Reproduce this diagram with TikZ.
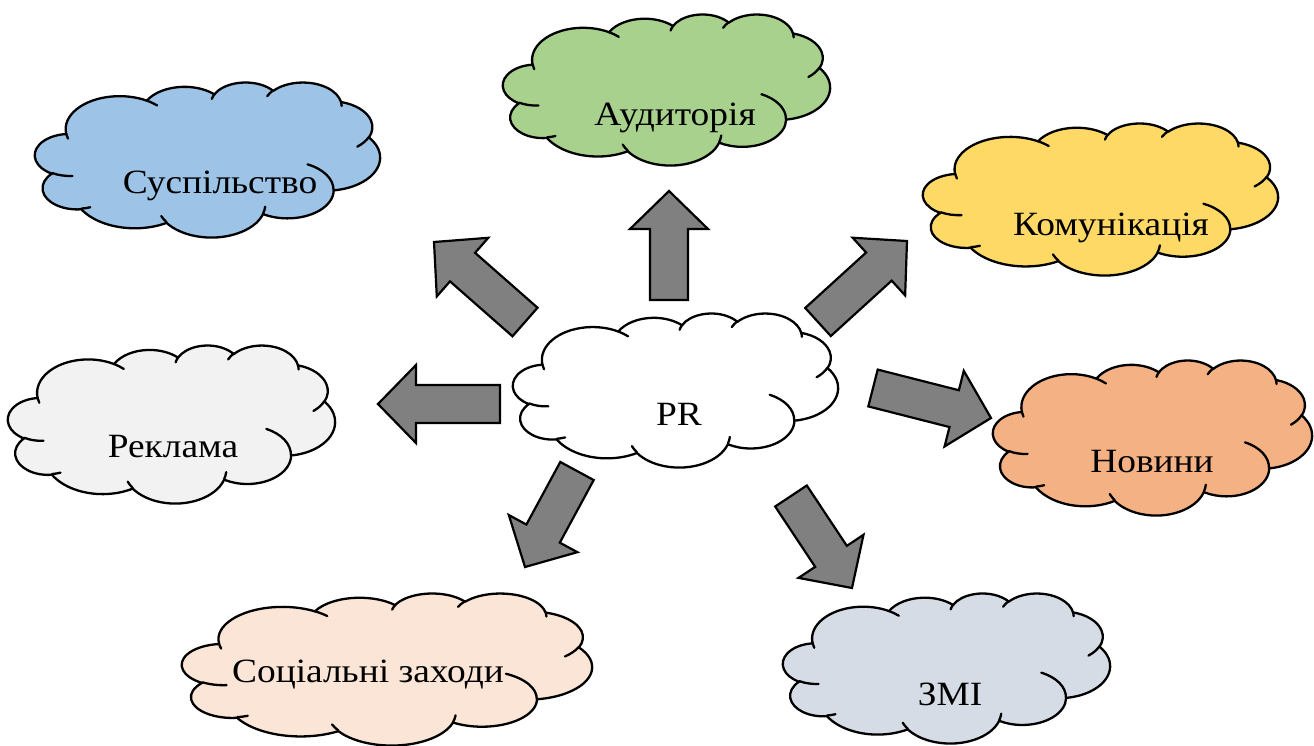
\documentclass[tikz,border=0pt]{standalone}
\usepackage{fontspec}
\setmainfont{Liberation Serif}
\newfontfamily\widefont[FakeStretch=1.1]{Liberation Serif}
\usetikzlibrary{calc}
\definecolor{cBlue}{HTML}{9DC3E6}
\definecolor{cGreen}{HTML}{A9D18E}
\definecolor{cYellow}{HTML}{FFD966}
\definecolor{cGray}{HTML}{F2F2F2}
\definecolor{cOrange}{HTML}{F4B183}
\definecolor{cSteel}{HTML}{D6DCE5}
\definecolor{cPeach}{HTML}{FBE5D6}
\definecolor{arrowgray}{HTML}{808080}
\tikzset{
  cloudline/.style={draw=black, line width=2.3pt, line join=round},
  blockarrow/.style={draw=black, line width=2.2pt, fill=arrowgray, line join=miter},
  cltext/.style={font=\widefont\fontsize{34}{38}\selectfont, anchor=base, inner sep=0pt},
}
% arc of the Office cloud: wR hR (hundreds), start angle, sweep (degrees, y down)
\newcommand\carc[4]{arc[start angle={-atan2((#1)*sin(#3),(#2)*cos(#3))}, delta angle={-mod(atan2((#1)*sin((#3)+(#4)),(#2)*cos((#3)+(#4)))-atan2((#1)*sin(#3),(#2)*cos(#3))+720,360)}, x radius={(#1)*\csx*1pt}, y radius={(#2)*\csy*1pt}]}
\newcommand\cpt[2]{(\cx+#1*\csx,-\cy-#2*\csy)}
\newcommand\cloudshape[5]{%
  \def\cx{#1}\def\cy{#2}%
  \pgfmathsetmacro\csx{#3/432}\pgfmathsetmacro\csy{#4/432}%
  \filldraw[cloudline, fill=#5] \cpt{39.00}{143.70}
    \carc{67.53}{91.90}{-190.48748}{123.78053}
    \carc{53.33}{72.67}{-144.10238}{89.94523}
    \carc{43.65}{59.45}{-145.80792}{99.72302}
    \carc{48.57}{65.95}{-130.98607}{117.24173}
    \carc{53.33}{72.73}{-78.70888}{109.02692}
    \carc{67.75}{92.20}{-46.26725}{130.269}
    \carc{57.85}{78.67}{0.62502}{114.03333}
    \carc{67.52}{92.15}{22.4516}{115.17255}
    \carc{77.20}{105.43}{66.24263}{75.71102}
    \carc{43.60}{59.18}{-274.94208}{146.73557}
    \carc{43.45}{59.45}{-246.8285}{152.51885}
    -- cycle;
  \draw[cloudline, line cap=round]
    \cpt{46.93}{261.77} \carc{43.45}{59.45}{86.742}{26.4295}
    \cpt{69.28}{348.99} \carc{43.60}{59.18}{73.61047}{11.44747}
    \cpt{164.78}{390.90} \carc{67.52}{92.15}{137.62415}{14.0811}
    \cpt{288.27}{347.51} \carc{67.52}{92.15}{6.45327}{15.99835}
    \cpt{341.29}{229.54} \carc{57.85}{78.67}{-70.29235}{70.91737}
    \cpt{417.98}{153.54} \carc{53.33}{72.73}{30.31803}{27.7515}
    \cpt{383.24}{54.26} \carc{48.57}{65.95}{-13.74433}{14.8589}
    \cpt{290.78}{39.52} \carc{48.57}{65.95}{-149.18145}{18.19537}
    \cpt{221.41}{47.20} \carc{43.65}{59.45}{-163.49427}{17.68635}
    \cpt{140.00}{51.92} \carc{67.53}{91.90}{-66.70695}{12.31935}
    \cpt{41.27}{157.89} \carc{67.53}{91.90}{157.65435}{11.85817};
}
\newcommand\blockarr[2]{%
  \coordinate (#1n) at ($(#2)!38pt!(#1)$);
  \draw[blockarrow] ($(#1)!19pt!90:(#2)$) -- ($(#1n)!19pt!90:(#2)$) -- ($(#1n)!39pt!90:(#2)$) -- (#2)
    -- ($(#1n)!39pt!-90:(#2)$) -- ($(#1n)!19pt!-90:(#2)$) -- ($(#1)!19pt!-90:(#2)$) -- cycle;
}
\begin{document}
\begin{tikzpicture}[x=1pt,y=1pt]
\useasboundingbox (0,0) rectangle (1314,-745);
% clouds
\cloudshape{513}{313}{325}{154}{white}
\cloudshape{35}{82}{345}{155}{cBlue}
\cloudshape{503}{14}{327}{151}{cGreen}
\cloudshape{923}{123}{355}{152}{cYellow}
\cloudshape{8}{345}{327}{158}{cGray}
\cloudshape{993}{360}{319}{155}{cOrange}
\cloudshape{783}{593}{327}{150}{cSteel}
\cloudshape{182}{593}{410}{152}{cPeach}
% texts
\node[cltext] (pr) at (679,-425) {PR};
\node[cltext] (susp) at (220,-193) {Суспільство};
\node[cltext] (aud) at (675,-125) {Аудиторія};
\node[cltext] (kom) at (1111,-235) {Комунікація};
\node[cltext] (rek) at (173,-457) {Реклама};
\node[cltext] (nov) at (1152,-472) {Новини};
\node[cltext] (zmi) at (950,-705) {ЗМІ};
\node[cltext] (soc) at (368,-682) {Соціальні заходи};
% arrows
\coordinate (aT) at (669,-300); \coordinate (aH) at (669,-191);
\coordinate (bT) at (525,-322); \coordinate (bH) at (434,-242);
\coordinate (cT) at (818,-322); \coordinate (cH) at (907,-241);
\coordinate (dT) at (500,-404); \coordinate (dH) at (378,-404);
\coordinate (eT) at (873,-388); \coordinate (eH) at (991,-418);
\coordinate (fT) at (791,-496); \coordinate (fH) at (852,-588);
\coordinate (gT) at (577,-471); \coordinate (gH) at (525,-567);
\blockarr{aT}{aH}
\blockarr{bT}{bH}
\blockarr{cT}{cH}
\blockarr{dT}{dH}
\blockarr{eT}{eH}
\blockarr{fT}{fH}
\blockarr{gT}{gH}
\end{tikzpicture}
\end{document}
